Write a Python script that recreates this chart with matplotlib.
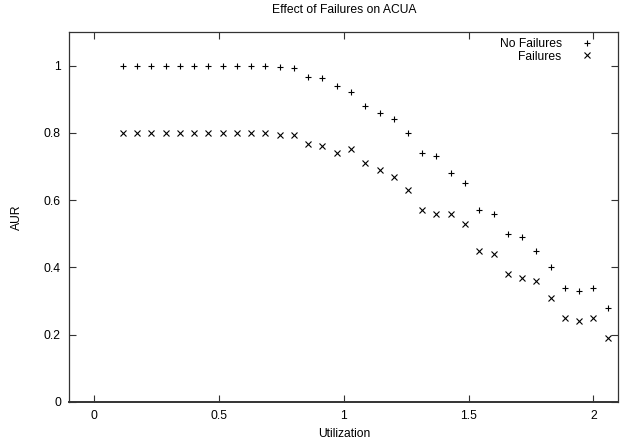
import numpy as np
import matplotlib.pyplot as plt

plt.rcParams['font.family'] = ['Liberation Sans', 'DejaVu Sans']

# utilization steps (k * 2/35, k = 2..36)
util = [0.114, 0.171, 0.229, 0.286, 0.343, 0.400, 0.457, 0.514, 0.571, 0.629,
        0.686, 0.743, 0.800, 0.857, 0.914, 0.971, 1.029, 1.086, 1.143, 1.200,
        1.257, 1.314, 1.371, 1.429, 1.486, 1.543, 1.600, 1.657, 1.714, 1.771,
        1.829, 1.886, 1.943, 2.000, 2.057]

no_failures = [1.0, 1.0, 1.0, 1.0, 1.0, 1.0, 1.0, 1.0, 1.0, 1.0,
               1.0, 0.996, 0.992, 0.967, 0.962, 0.940, 0.921, 0.880, 0.860, 0.841,
               0.80, 0.74, 0.73, 0.68, 0.65, 0.57, 0.56, 0.50, 0.49, 0.45,
               0.40, 0.34, 0.33, 0.34, 0.28]

failures = [0.8, 0.8, 0.8, 0.8, 0.8, 0.8, 0.8, 0.8, 0.8, 0.8,
            0.8, 0.795, 0.793, 0.767, 0.762, 0.740, 0.751, 0.71, 0.69, 0.67,
            0.63, 0.57, 0.56, 0.56, 0.53, 0.45, 0.44, 0.38, 0.37, 0.36,
            0.31, 0.25, 0.24, 0.25, 0.19]

FS = 8.7

fig = plt.figure(figsize=(6.21, 4.42), dpi=100)
ax = fig.add_axes([0.1116, 0.0905, 0.9957 - 0.1116, 0.9276 - 0.0905])

ax.plot(util, no_failures, linestyle='none', marker='+', ms=5, mew=0.8,
        color='black', label='No Failures')
ax.plot(util, failures, linestyle='none', marker='x', ms=4, mew=0.8,
        color='black', label='Failures')

ax.set_xlim(-0.1, 2.1)
ax.set_ylim(0, 1.1)
ax.set_xticks([0, 0.5, 1, 1.5, 2])
ax.set_xticklabels(['0', '0.5', '1', '1.5', '2'])
ax.set_yticks([0, 0.2, 0.4, 0.6, 0.8, 1])
ax.set_yticklabels(['0', '0.2', '0.4', '0.6', '0.8', '1'])
ax.tick_params(direction='in', length=5, width=0.8, labelsize=FS,
               top=True, right=True, pad=6, color='#333333')
for s in ax.spines.values():
    s.set_linewidth(0.9)
    s.set_color('#333333')
ax.spines['bottom'].set_linewidth(1.4)

ax.set_title('Effect of Failures on ACUA', fontsize=FS, pad=14)
ax.set_xlabel('Utilization', fontsize=FS, labelpad=4)
ax.set_ylabel('AUR', fontsize=FS, labelpad=15)

ax.legend(loc='upper right', bbox_to_anchor=(0.9535, 0.984), frameon=False,
          markerfirst=False, fontsize=FS, handlelength=1.0,
          handletextpad=1.57, labelspacing=0.05, borderaxespad=0,
          borderpad=0)

fig.savefig('out.png', dpi=100, facecolor='white')
